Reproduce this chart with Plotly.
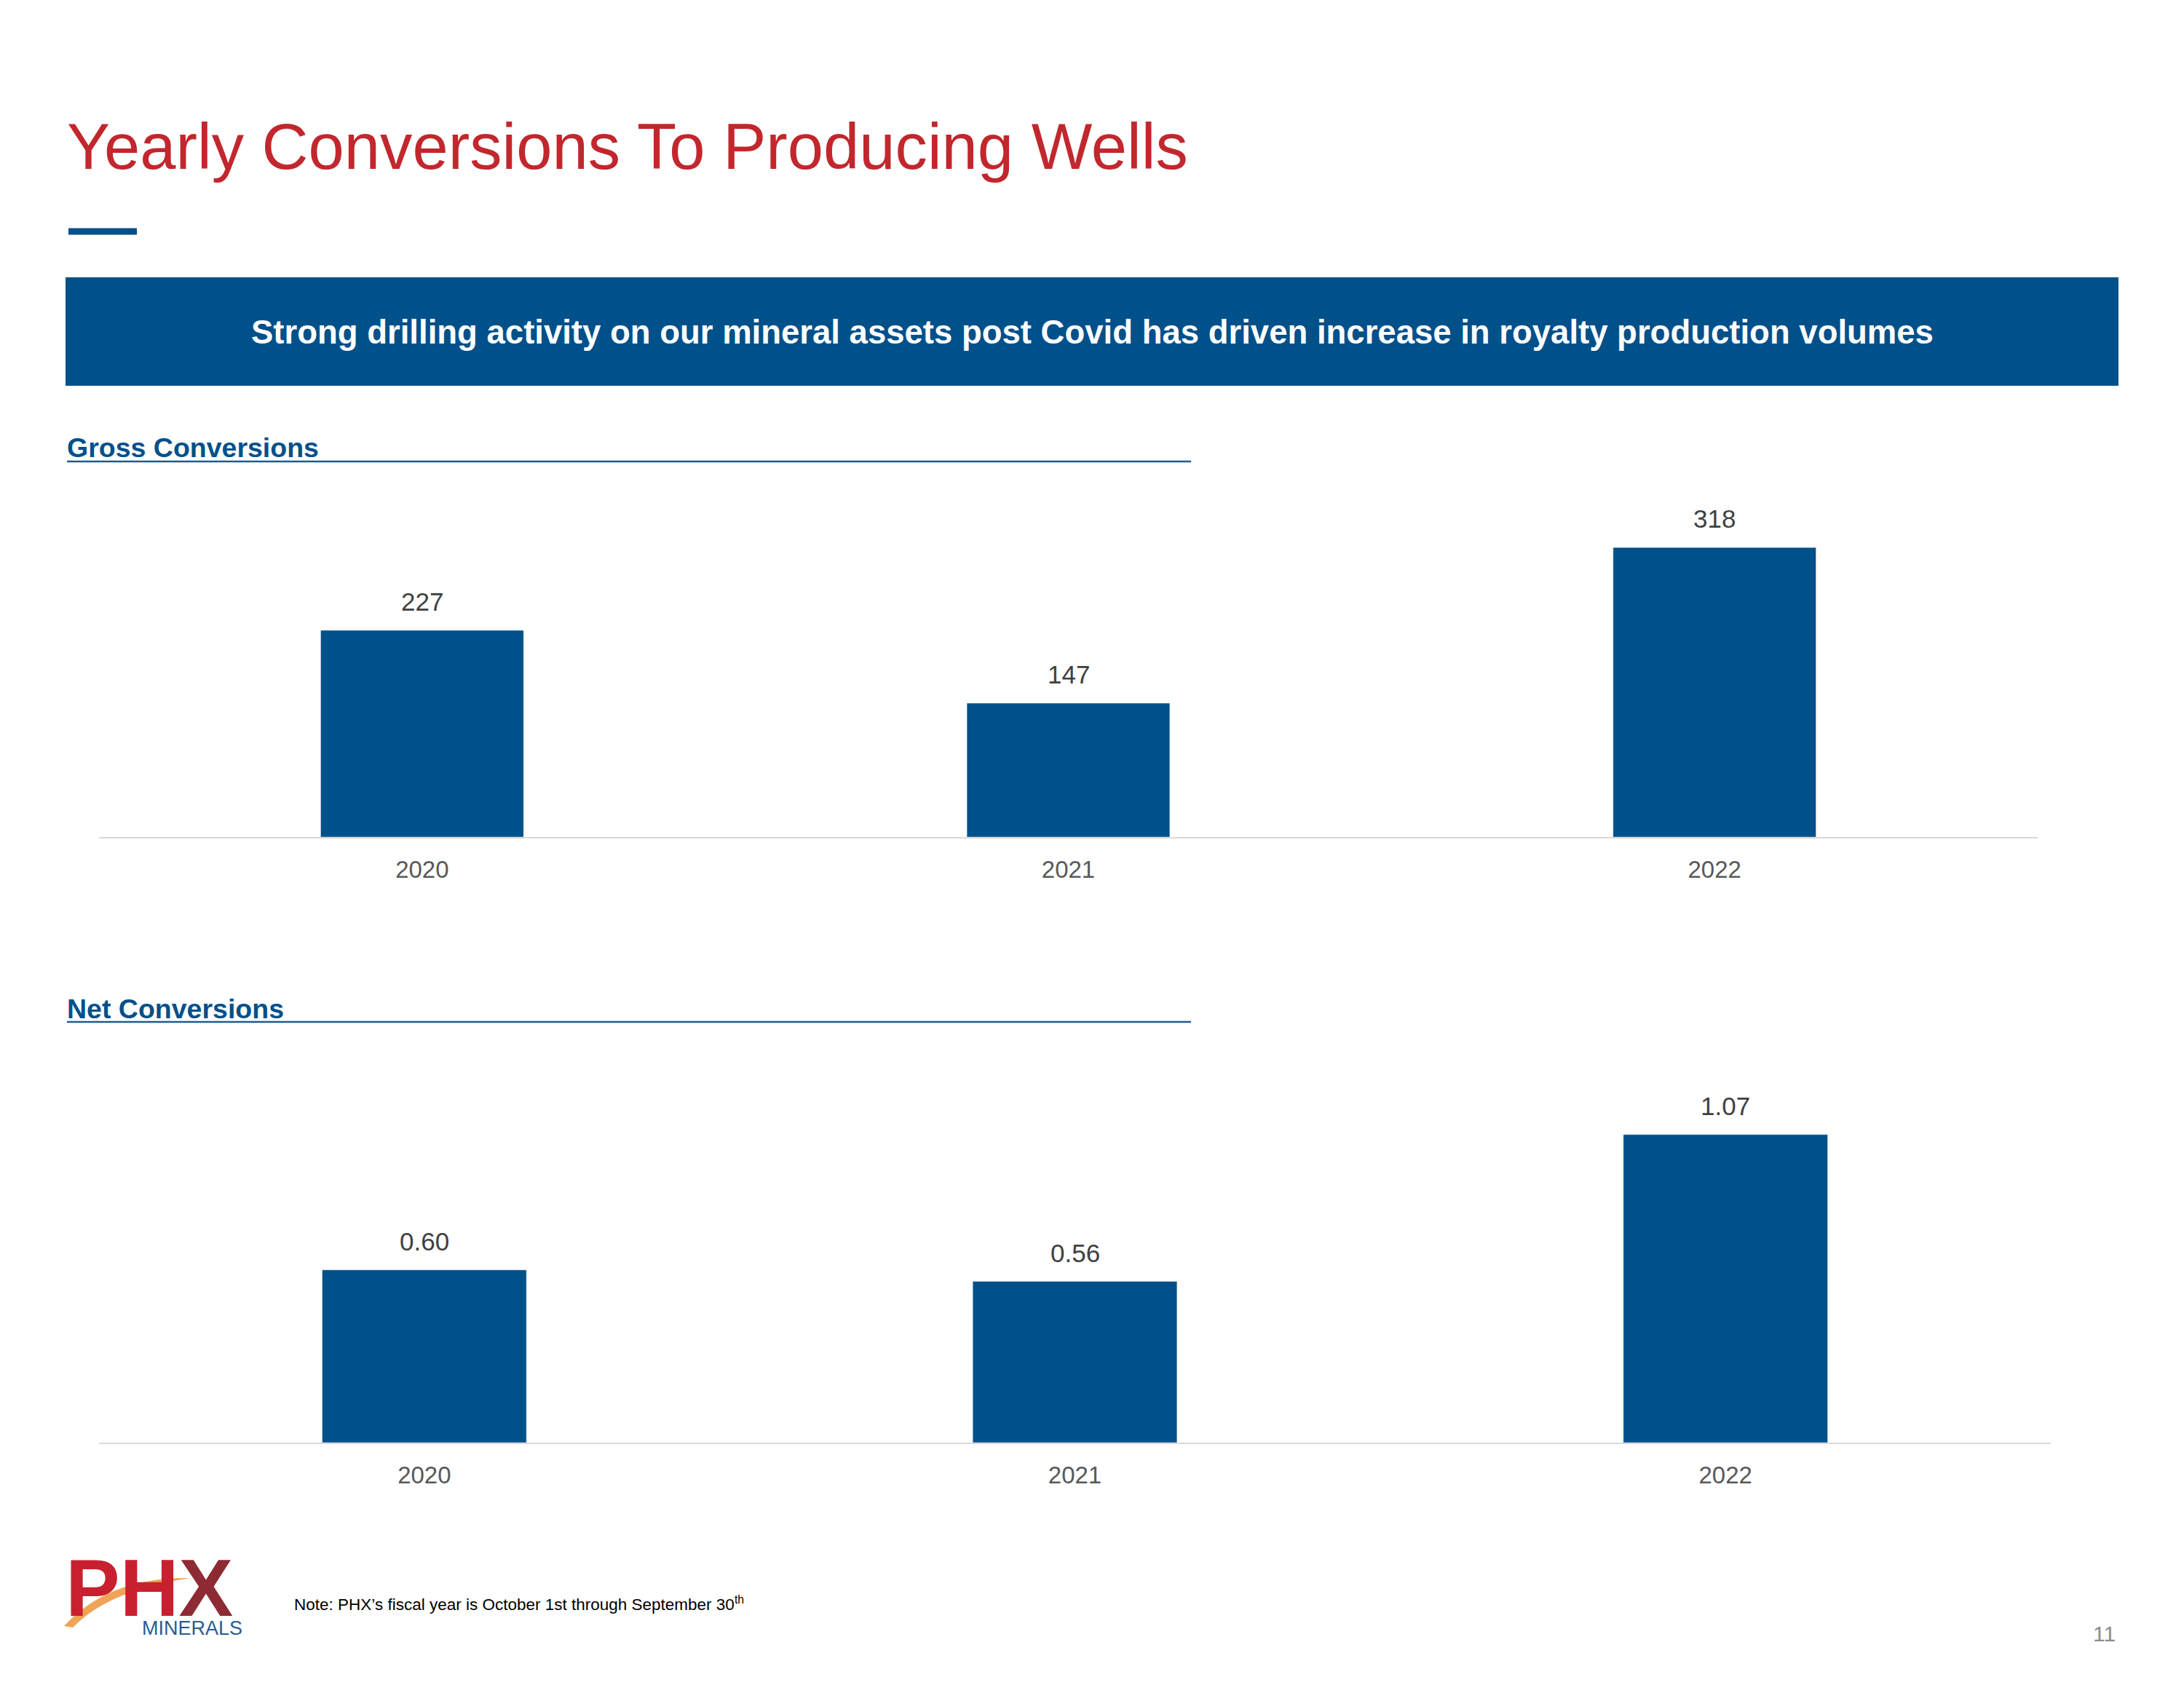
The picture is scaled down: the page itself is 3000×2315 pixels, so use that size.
import plotly.graph_objects as go

# ---- data ----
years = ["2020", "2021", "2022"]
gross_conversions = [227, 147, 318]
net_conversions = [0.60, 0.56, 1.07]

W, H = 3000, 2315
OFF = 8  # browser default body margin
BLUE = "#00508A"
RED = "#C1272D"
FONT = "Liberation Sans, Arial, sans-serif"


def px(x):
    return (x - OFF) / W


def py(y):
    return 1 - (y - OFF) / H


fig = go.Figure()

fig.add_trace(go.Bar(x=years, y=gross_conversions, marker_color=BLUE,
                     xaxis="x", yaxis="y", showlegend=False, hoverinfo="skip"))
fig.add_trace(go.Bar(x=years, y=net_conversions, marker_color=BLUE,
                     xaxis="x2", yaxis="y2", showlegend=False, hoverinfo="skip"))

annotations = []
# value labels above bars (positioned via the data scales; category index on x)
for i, yv in enumerate(gross_conversions):
    annotations.append(dict(x=i, y=yv, xref="x", yref="y", text=f"{yv:d}",
                            showarrow=False, yanchor="middle", yshift=40,
                            font=dict(family=FONT, size=35, color="#404040")))
for i, yv in enumerate(net_conversions):
    annotations.append(dict(x=i, y=yv, xref="x2", yref="y2", text=f"{yv:.2f}",
                            showarrow=False, yanchor="middle", yshift=39,
                            font=dict(family=FONT, size=35, color="#404040")))

# titles and texts
annotations += [
    dict(x=px(90), y=py(201), xref="paper", yref="paper", xanchor="left", yanchor="middle",
         text="Yearly Conversions To Producing Wells", showarrow=False,
         font=dict(family=FONT, size=88.6, color=RED)),
    dict(x=px(1500), y=py(456), xref="paper", yref="paper", xanchor="center", yanchor="middle",
         text="<b>Strong drilling activity on our mineral assets post Covid has driven increase in royalty production volumes</b>",
         showarrow=False, font=dict(family=FONT, size=45.5, color="white")),
    dict(x=px(90), y=py(615), xref="paper", yref="paper", xanchor="left", yanchor="middle",
         text="<b>Gross Conversions</b>", showarrow=False,
         font=dict(family=FONT, size=37.5, color=BLUE)),
    dict(x=px(90), y=py(1386), xref="paper", yref="paper", xanchor="left", yanchor="middle",
         text="<b>Net Conversions</b>", showarrow=False,
         font=dict(family=FONT, size=37.5, color=BLUE)),
    dict(x=px(402), y=py(2203), xref="paper", yref="paper", xanchor="left", yanchor="middle",
         text="Note: PHX\u2019s fiscal year is October 1st through September 30<sup>th</sup>",
         showarrow=False, font=dict(family=FONT, size=22.5, color="black")),
    dict(x=px(2908), y=py(2244), xref="paper", yref="paper", xanchor="right", yanchor="middle",
         text="11", showarrow=False, font=dict(family=FONT, size=30, color="#8C8C8C")),
    # logo
    dict(x=px(88), y=py(2181), xref="paper", yref="paper", xanchor="left", yanchor="middle",
         text="<b>PH<span style='color:#8E2A33'>X</span></b>", showarrow=False,
         font=dict(family=FONT, size=112, color="#C8202F")),
    dict(x=px(335), y=py(2237), xref="paper", yref="paper", xanchor="right", yanchor="middle",
         text="MINERALS", showarrow=False,
         font=dict(family=FONT, size=27, color="#2A5C8F")),
]

sw = [(88, 2234), (150, 2166), (262, 2168), (150, 2184), (100, 2236)]
swoosh = (f"M {px(sw[0][0])},{py(sw[0][1])} Q {px(sw[1][0])},{py(sw[1][1])} {px(sw[2][0])},{py(sw[2][1])} "
          f"Q {px(sw[3][0])},{py(sw[3][1])} {px(sw[4][0])},{py(sw[4][1])} Z")

shapes = [
    dict(type="line", xref="paper", yref="paper", x0=px(94), x1=px(188), y0=py(318), y1=py(318),
         line=dict(color=BLUE, width=9)),
    dict(type="rect", xref="paper", yref="paper", x0=px(90), x1=px(2910), y0=py(381), y1=py(530),
         fillcolor=BLUE, line=dict(width=0), layer="below"),
    dict(type="line", xref="paper", yref="paper", x0=px(92), x1=px(1636), y0=py(634), y1=py(634),
         line=dict(color="#1F5B8F", width=2.5)),
    dict(type="line", xref="paper", yref="paper", x0=px(92), x1=px(1636), y0=py(1404), y1=py(1404),
         line=dict(color="#1F5B8F", width=2.5)),
    dict(type="path", xref="paper", yref="paper", path=swoosh,
         fillcolor="#EE9A45", line=dict(width=0), opacity=0.9, layer="above"),
]

xcommon = dict(type="category", range=[-0.5, 2.5], automargin=False,
               showgrid=False, zeroline=False, showline=True,
               linecolor="#D9D9D9", linewidth=2, ticks="outside", ticklen=14,
               tickcolor="rgba(0,0,0,0)", tickfont=dict(family=FONT, size=33, color="#595959"),
               fixedrange=True)
ycommon = dict(visible=False, automargin=False, showgrid=False, zeroline=False, fixedrange=True)

fig.update_layout(
    width=W, height=H,
    margin=dict(l=0, r=0, t=0, b=0, pad=0),
    paper_bgcolor="white", plot_bgcolor="white",
    bargap=0.686,
    xaxis=dict(domain=[px(136), px(2799)], anchor="y", **xcommon),
    yaxis=dict(domain=[py(1150), py(700)], range=[0, 359.7], anchor="x", **ycommon),
    xaxis2=dict(domain=[px(136), px(2817)], anchor="y2", **xcommon),
    yaxis2=dict(domain=[py(1982), py(1440)], range=[0, 1.3705], anchor="x2", **ycommon),
    annotations=annotations,
    shapes=shapes,
    showlegend=False,
)

fig.write_html("out.html")
